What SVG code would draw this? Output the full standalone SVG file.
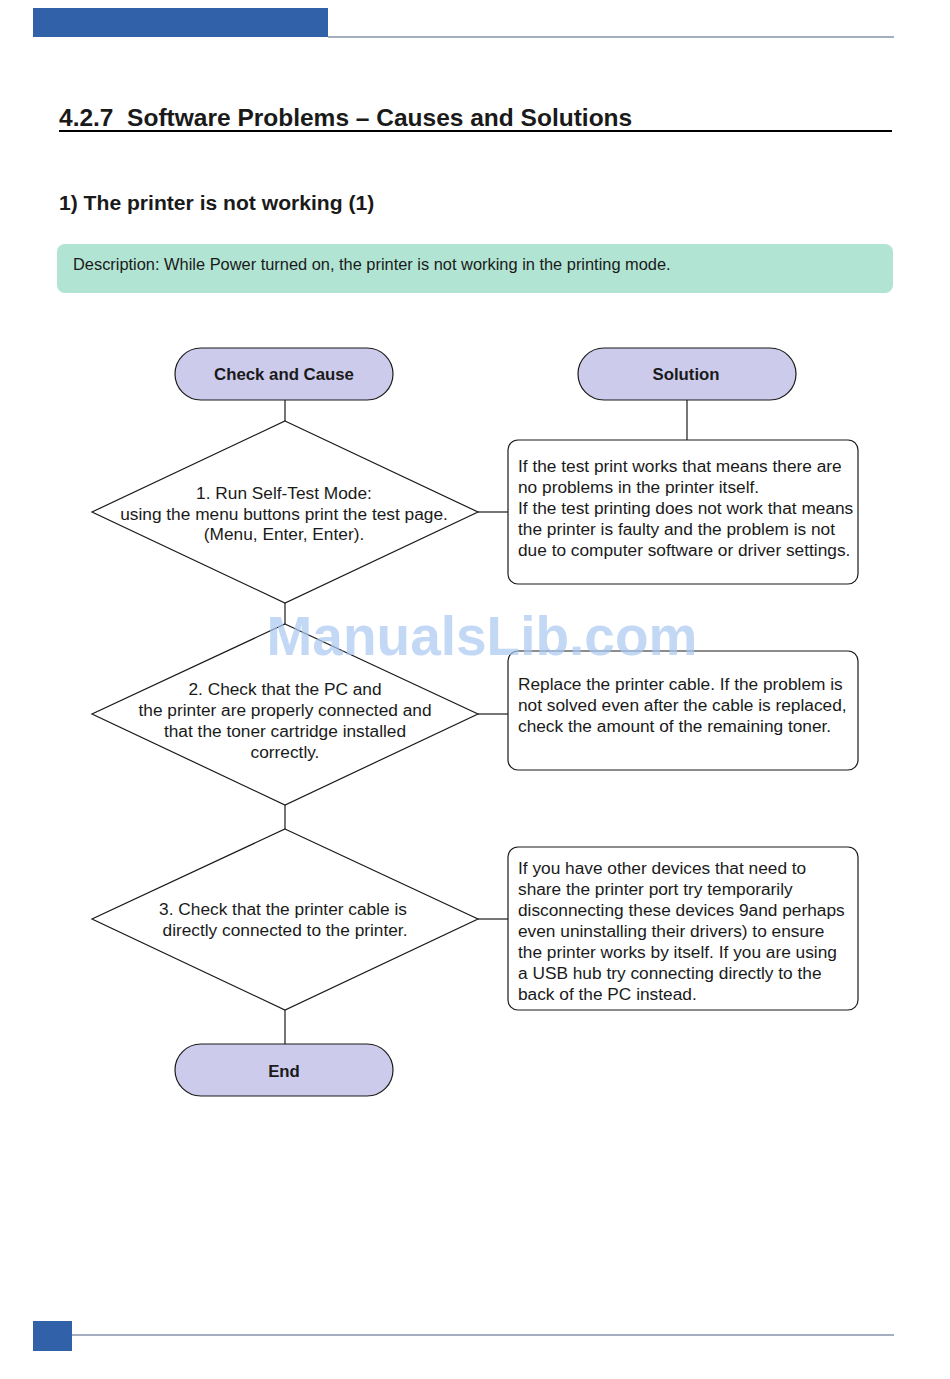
<svg xmlns="http://www.w3.org/2000/svg" width="950" height="1379" viewBox="0 0 950 1379">
<style>
.t{font-family:"Liberation Sans",Arial,sans-serif;font-size:17.3px;fill:#1a1a1a}
.c{text-anchor:middle}
.b{font-weight:bold}
.pl{font-size:16.8px}
.pill{fill:#cdcbeb;stroke:#1a1a1a;stroke-width:1.2}
.dia{fill:#fff;stroke:#1a1a1a;stroke-width:1.2}
.box{fill:#fff;stroke:#1a1a1a;stroke-width:1.2}
.ln{stroke:#1a1a1a;stroke-width:1.2;fill:none}
</style>
<rect width="950" height="1379" fill="#fff"/>
<g id="header">
<rect x="33" y="8" width="295" height="29" fill="#3161a9"/>
<line x1="328" y1="37" x2="894" y2="37" stroke="#4a5f82" stroke-width="1.2"/>
<text x="59" y="126" class="t b" style="font-size:24.5px;white-space:pre" xml:space="preserve">4.2.7  Software Problems – Causes and Solutions</text>
<line x1="59" y1="131" x2="892" y2="131" stroke="#000" stroke-width="2"/>
<text x="59" y="210" class="t b" style="font-size:21.1px">1) The printer is not working (1)</text>
</g>
<g id="description">
<rect x="57" y="244" width="836" height="49" rx="8" fill="#b2e4d3"/>
<text x="73" y="270" class="t" style="font-size:16.4px">Description: While Power turned on, the printer is not working in the printing mode.</text>
</g>
<g id="connectors">
<line class="ln" x1="285" y1="400" x2="285" y2="421"/>
<line class="ln" x1="687" y1="400" x2="687" y2="440"/>
<line class="ln" x1="478" y1="512" x2="508" y2="512"/>
<line class="ln" x1="285" y1="603" x2="285" y2="624"/>
<line class="ln" x1="478" y1="714" x2="508" y2="714"/>
<line class="ln" x1="285" y1="805" x2="285" y2="829"/>
<line class="ln" x1="478" y1="919" x2="508" y2="919"/>
<line class="ln" x1="285" y1="1010" x2="285" y2="1044"/>
</g>
<g id="check-cause">
<rect class="pill" x="175" y="348" width="218" height="52" rx="26"/>
<text x="284" y="380" class="t b c pl">Check and Cause</text>
</g>
<g id="solution">
<rect class="pill" x="578" y="348" width="218" height="52" rx="26"/>
<text x="686" y="380" class="t b c pl">Solution</text>
</g>
<g id="step1">
<polygon class="dia" points="285,421 478,512 285,603 92,512"/>
<text class="t c" x="284" y="499">1. Run Self-Test Mode:</text>
<text class="t c" x="284" y="520">using the menu buttons print the test page.</text>
<text class="t c" x="284" y="540">(Menu, Enter, Enter).</text>
</g>
<g id="solution1">
<rect class="box" x="508" y="440" width="350" height="144" rx="10"/>
<text class="t" x="518" y="472">If the test print works that means there are</text>
<text class="t" x="518" y="493">no problems in the printer itself.</text>
<text class="t" x="518" y="514">If the test printing does not work that means</text>
<text class="t" x="518" y="535">the printer is faulty and the problem is not</text>
<text class="t" x="518" y="556">due to computer software or driver settings.</text>
</g>
<g id="step2">
<polygon class="dia" points="285,624 478,714 285,805 92,714"/>
<text class="t c" x="285" y="695">2. Check that the PC and</text>
<text class="t c" x="285" y="716">the printer are properly connected and</text>
<text class="t c" x="285" y="737">that the toner cartridge installed</text>
<text class="t c" x="285" y="758">correctly.</text>
</g>
<g id="solution2">
<rect class="box" x="508" y="651" width="350" height="119" rx="10"/>
<text class="t" x="518" y="690">Replace the printer cable. If the problem is</text>
<text class="t" x="518" y="711">not solved even after the cable is replaced,</text>
<text class="t" x="518" y="732">check the amount of the remaining toner.</text>
</g>
<g id="step3">
<polygon class="dia" points="285,829 478,919 285,1010 92,919"/>
<text class="t c" x="283" y="915">3. Check that the printer cable is</text>
<text class="t c" x="285" y="936">directly connected to the printer.</text>
</g>
<g id="solution3">
<rect class="box" x="508" y="847" width="350" height="163" rx="10"/>
<text class="t" x="518" y="874">If you have other devices that need to</text>
<text class="t" x="518" y="895">share the printer port try temporarily</text>
<text class="t" x="518" y="916">disconnecting these devices 9and perhaps</text>
<text class="t" x="518" y="937">even uninstalling their drivers) to ensure</text>
<text class="t" x="518" y="958">the printer works by itself. If you are using</text>
<text class="t" x="518" y="979">a USB hub try connecting directly to the</text>
<text class="t" x="518" y="1000">back of the PC instead.</text>
</g>
<g id="end">
<rect class="pill" x="175" y="1044" width="218" height="52" rx="26"/>
<text x="284" y="1077" class="t b c pl">End</text>
</g>
<g id="watermark">
<text x="482" y="655" class="t b c" style="font-size:55px;fill:#a9c8f0;fill-opacity:0.7">ManualsLib.com</text>
</g>
<g id="footer">
<rect x="33" y="1321" width="39" height="30" fill="#3161a9"/>
<line x1="72" y1="1335" x2="894" y2="1335" stroke="#4a5f82" stroke-width="1.2"/>
</g>
</svg>
